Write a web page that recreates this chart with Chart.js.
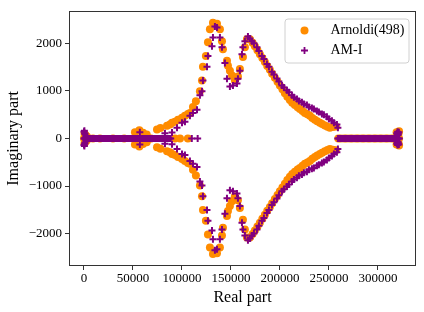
<!DOCTYPE html>
<html>
<head>
<meta charset="utf-8">
<script src="https://cdn.jsdelivr.net/npm/chart.js@4/dist/chart.umd.min.js"></script>
<style>
  body { margin: 0; background: #fff; }
  canvas { display: block; }
</style>
</head>
<body>
<canvas id="eig" width="424" height="312"></canvas>
<script>
// eigenvalues; complex ones listed once (upper half),
// their conjugates are plotted as well
var arnoldiRe = [500, 1500, 3000, 52000, 56500, 60200, 64000, 74500, 78000,
  84700, 87700, 89800, 92800, 95900, 100000, 103000, 106100, 108100, 111200, 114200,
  118300, 120400, 121400, 124400, 126500, 128500, 131600, 135700, 138700, 140800,
  141800, 145900, 146900, 148900, 151000, 154000, 157100, 159100, 162200, 164200,
  166300, 169300, 172000, 174400, 177000, 179500, 182000, 184600, 187000, 189700,
  192000, 194800, 197500, 199900, 202500, 205000, 207500, 210100, 212500, 215200,
  218000, 220300, 223000, 225400, 228000, 230500, 233000, 235600, 238000, 240700,
  243000, 245800, 248500, 250900, 254000, 257000,
  319000, 319600, 320200, 320500, 321000, 321500];
var arnoldiIm = [100, 70, 40, 130, 170, 120, 80, 185, 220,
  268, 290, 330, 350, 390, 433, 474, 515, 535, 660, 780,
  990, 1215, 1505, 1730, 2020, 2290, 2430, 2410, 2290, 2040,
  1875, 1630, 1525, 1420, 1320, 1215, 1300, 1460, 1710, 1915,
  2080, 2080, 2010, 1935, 1850, 1770, 1690, 1605, 1520, 1440,
  1360, 1275, 1190, 1110, 1030, 950, 875, 805, 750, 700,
  655, 620, 575, 535, 505, 475, 430, 390, 360, 330,
  300, 270, 245, 225, 240, 250,
  130, 60, 120, 90, 100, 150];
var arnoldiReal = [0, 1000, 2500, 9200, 16300, 29600, 41000, 52000, 56000, 60000,
  64000, 68500, 92800, 98000, 106000,
  259500, 262000, 265500, 268000, 271500, 274000, 277500, 280000, 283500, 286000,
  289500, 292000, 295500, 298000, 301500, 304000, 307500, 310000, 313500, 316000,
  318500, 320000, 321500];

var amRe = [0, 400, 700, 1000, 1800, 57000, 82600,
  89800, 94900, 100000, 103000, 108100, 111200, 115300, 118300, 120400, 121400,
  125500, 126500, 130600, 131600, 133600, 135700, 138700, 140800, 143800, 145900,
  148900, 152000, 156100, 157100, 159100, 161200, 162200, 164200,
  167300, 169300, 171400, 173400, 176500, 178500, 181600, 183600, 186700, 188700,
  191800, 193800, 196900, 198900, 202000, 204000, 207100, 209100, 212200, 214200,
  217300, 219300, 222400, 224400, 227500, 229500, 232600, 234600, 237700, 239700,
  242800, 244800, 247900, 249900, 253000, 255000, 258100, 259100,
  319200, 319700, 320000, 320400, 320800, 321300];
var amIm = [140, 160, 110, 90, 50, 130, 110,
  125, 225, 330, 350, 475, 535, 600, 905, 990, 1215,
  1505, 1730, 1935, 2120, 2350, 2330, 2120, 1915, 1585, 1255,
  1090, 1110, 1155, 1255, 1420, 1770, 1915, 2040,
  2140, 2100, 2040, 2000, 1915, 1835, 1730, 1670, 1565, 1505,
  1400, 1340, 1260, 1195, 1110, 1070, 1010, 970, 905, 865,
  825, 785, 760, 720, 700, 660, 640, 620, 575, 555,
  515, 495, 455, 410, 370, 330, 290, 225,
  110, 90, 140, 70, 100, 130];
// the real eigenvalues sit so close that they read as a solid bar
var amReal = [0, 500, 1000, 1500, 2000, 2600, 3200, 4000, 5000, 6000,
  7100, 8200, 9300, 10400, 11500, 12600, 13700, 14800, 15900, 17000,
  18100, 19200, 20300, 21400, 22500, 23600, 24700, 25800, 26900, 28000,
  29100, 30200, 31300, 32400, 33500, 34600, 35700, 36800, 37900, 39000,
  40100, 41200, 42300, 43400, 44500, 45600, 46700, 47800, 48900, 50000,
  51100, 52200, 53300, 54400, 55500, 56600, 57700, 58800, 59900, 61000,
  62100, 63200, 64300, 65400, 66500, 67600, 68700, 69800, 70900, 72000,
  73100, 74200, 75300, 76400, 77500, 78600, 79700, 80800, 81900, 83000,
  84100, 85200, 86300, 87400, 88500,
  110000, 116000,
  259000, 260100, 261200, 262300, 263400, 264500, 265600, 266700, 267800, 268900,
  270000, 271100, 272200, 273300, 274400, 275500, 276600, 277700, 278800, 279900,
  281000, 282100, 283200, 284300, 285400, 286500, 287600, 288700, 289800, 290900,
  292000, 293100, 294200, 295300, 296400, 297500, 298600, 299700, 300800, 301900,
  303000, 304100, 305200, 306300, 307400, 308500, 309600, 310700, 311800, 312900,
  314000, 315100, 316200, 317300, 318400, 319400, 320300, 321100, 321800];

var xTicks = [0, 50000, 100000, 150000, 200000, 250000, 300000];
var yTicks = [-2000, -1000, 0, 1000, 2000];

var ORANGE = '#ff8c00';
var PURPLE = '#800080';

function points(re, im, axis) {
  var out = [];
  for (var i = 0; i < re.length; i++) {
    out.push({x: re[i], y: im[i]});
    out.push({x: re[i], y: -im[i]});
  }
  axis.forEach(function(r){ out.push({x: r, y: 0}); });
  return out;
}

var framePlugin = {
  id: 'frame',
  afterDraw: function(chart) {
    var ctx = chart.ctx, a = chart.chartArea;
    ctx.save();
    ctx.strokeStyle = '#333';
    ctx.lineWidth = 1;
    var l = Math.round(a.left) + 0.5, t = Math.round(a.top) + 0.5;
    var r = Math.round(a.right) - 0.5, b = Math.round(a.bottom) - 0.5;
    ctx.strokeRect(l, t, r - l, b - t);

    // legend box, upper right
    var bx = r - 131, by = t + 7, bw = 124, bh = 44;
    ctx.beginPath();
    ctx.roundRect(bx + 0.5, by + 0.5, bw, bh, 3);
    ctx.fillStyle = 'rgba(255,255,255,0.8)';
    ctx.fill();
    ctx.strokeStyle = '#d0d0d0';
    ctx.stroke();

    ctx.fillStyle = ORANGE;
    ctx.beginPath();
    ctx.arc(bx + 20, by + 12, 4, 0, Math.PI * 2);
    ctx.fill();

    ctx.strokeStyle = PURPLE;
    ctx.lineWidth = 1.8;
    ctx.beginPath();
    ctx.moveTo(bx + 16.5, by + 32); ctx.lineTo(bx + 23.5, by + 32);
    ctx.moveTo(bx + 20, by + 28.5); ctx.lineTo(bx + 20, by + 35.5);
    ctx.stroke();

    ctx.fillStyle = '#000';
    ctx.font = '14px "Liberation Serif"';
    ctx.textBaseline = 'middle';
    ctx.fillText('Arnoldi(498)', bx + 46, by + 12);
    ctx.fillText('AM-I', bx + 46, by + 32);
    ctx.restore();
  }
};

var tickFont = {family: 'Liberation Serif', size: 13};
var titleFont = {family: 'Liberation Serif', size: 16};
function fmt(v) { return String(v).replace('-', '\u2212'); }

new Chart(document.getElementById('eig'), {
  type: 'scatter',
  data: {
    datasets: [
      {
        label: 'AM-I',
        data: points(amRe, amIm, amReal),
        pointStyle: 'cross',
        pointRadius: 3.5,
        pointBorderWidth: 2,
        borderColor: PURPLE,
        backgroundColor: PURPLE,
        order: 0
      }, {
        label: 'Arnoldi(498)',
        data: points(arnoldiRe, arnoldiIm, arnoldiReal),
        pointStyle: 'circle',
        pointRadius: 4,
        pointBorderWidth: 0,
        borderColor: ORANGE,
        backgroundColor: ORANGE,
        order: 1
      }
    ]
  },
  options: {
    responsive: false,
    animation: false,
    layout: {padding: {top: 6, right: 8, left: 0, bottom: 0}},
    plugins: {legend: {display: false}, tooltip: {enabled: false}},
    scales: {
      x: {
        type: 'linear',
        min: -15300,
        max: 338800,
        afterBuildTicks: function(s){ s.ticks = xTicks.map(function(v){ return {value: v}; }); },
        afterFit: function(s){ s.height = 46; },
        ticks: {font: tickFont, color: '#000', padding: 1, autoSkip: false, maxRotation: 0, callback: fmt},
        grid: {display: true, drawOnChartArea: false, drawTicks: true, tickLength: 4, tickColor: '#333'},
        border: {display: false},
        title: {display: true, text: 'Real part', font: titleFont, color: '#000', padding: {top: 0, bottom: 5}}
      },
      y: {
        type: 'linear',
        min: -2680,
        max: 2680,
        afterBuildTicks: function(s){ s.ticks = yTicks.map(function(v){ return {value: v}; }); },
        afterFit: function(s){ s.width = 69; },
        ticks: {font: tickFont, color: '#000', padding: 3, autoSkip: false, callback: fmt},
        grid: {display: true, drawOnChartArea: false, drawTicks: true, tickLength: 4, tickColor: '#333'},
        border: {display: false},
        title: {display: true, text: 'Imaginary part', font: titleFont, color: '#000', padding: {top: 4, bottom: 0}}
      }
    }
  },
  plugins: [framePlugin]
});
</script>
</body>
</html>
